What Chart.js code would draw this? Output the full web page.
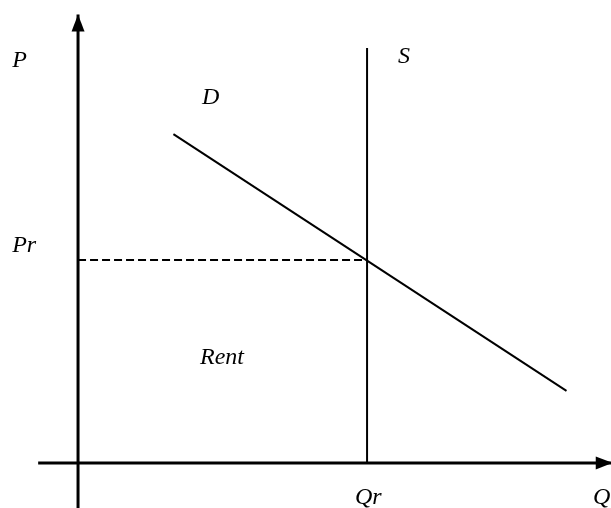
<!DOCTYPE html>
<html>
<head>
<meta charset="utf-8">
<script src="https://cdn.jsdelivr.net/npm/chart.js@4/dist/chart.umd.min.js"></script>
<style>
  html, body { margin: 0; padding: 0; background: #fff; }
  #wrap { width: 611px; height: 508px; position: relative; }
</style>
</head>
<body>
<div id="wrap"><canvas id="rent"></canvas></div>
<script>
// Economic rent diagram: fixed supply S at Qr, downward demand D.
// Units: Qr = 10, Pr = 10.
const X_RANGE = [-2.7, 18.44];
const Y_RANGE = [-2.22, 22.81];

const priceAxis = [{ x: 0, y: -2.22 }, { x: 0, y: 22.1 }];
const quantityAxis = [{ x: -1.38, y: 0 }, { x: 18.5, y: 0 }];
const demand = [{ x: 3.3, y: 16.2 }, { x: 16.9, y: 3.55 }];
const supply = [{ x: 10, y: 0 }, { x: 10, y: 20.44 }];
const rentPrice = [{ x: 0, y: 10 }, { x: 10, y: 10 }];

const labels = [
  { text: "P", x: -2.28, y: 19.5 },
  { text: "Pr", x: -2.28, y: 10.39 },
  { text: "D", x: 4.29, y: 17.68 },
  { text: "S", x: 11.07, y: 19.7 },
  { text: "Rent", x: 4.22, y: 4.88 },
  { text: "Qr", x: 9.58, y: -2.02 },
  { text: "Q", x: 17.82, y: -2.02 },
];

const seg = (data, width, dash) => ({
  data, showLine: true, borderColor: "#000", borderWidth: width,
  borderDash: dash || [], pointRadius: 0, pointHoverRadius: 0, fill: false,
});

// arrowheads on the two axes + italic labels
const decor = {
  id: "decor",
  afterDatasetsDraw(chart) {
    const { ctx, scales: { x, y } } = chart;
    const head = (tip, dx, dy) => {
      const px = x.getPixelForValue(tip.x), py = y.getPixelForValue(tip.y);
      const len = 17, half = 6.5;
      ctx.beginPath();
      ctx.moveTo(px, py);
      ctx.lineTo(px - dx * len - dy * half, py - dy * len + dx * half);
      ctx.lineTo(px - dx * len + dy * half, py - dy * len - dx * half);
      ctx.closePath();
      ctx.fill();
    };
    ctx.save();
    ctx.fillStyle = "#000";
    head(priceAxis[1], 0, -1);
    head(quantityAxis[1], 1, 0);
    ctx.font = 'italic 24px "Liberation Serif", "Times New Roman", serif';
    ctx.textBaseline = "alphabetic";
    ctx.textAlign = "left";
    labels.forEach((l) => ctx.fillText(l.text, x.getPixelForValue(l.x), y.getPixelForValue(l.y)));
    ctx.restore();
  },
};

new Chart(document.getElementById("rent"), {
  type: "scatter",
  data: {
    datasets: [
      seg(priceAxis, 3),
      seg(quantityAxis, 3),
      seg(rentPrice, 2, [8, 4]),
      seg(supply, 2),
      seg(demand, 2),
    ],
  },
  options: {
    responsive: true, maintainAspectRatio: false, animation: false,
    layout: { padding: 0 },
    plugins: { legend: { display: false }, tooltip: { enabled: false } },
    events: [],
    scales: {
      x: { type: "linear", min: X_RANGE[0], max: X_RANGE[1], display: false },
      y: { type: "linear", min: Y_RANGE[0], max: Y_RANGE[1], display: false },
    },
  },
  plugins: [decor],
});
</script>
</body>
</html>
